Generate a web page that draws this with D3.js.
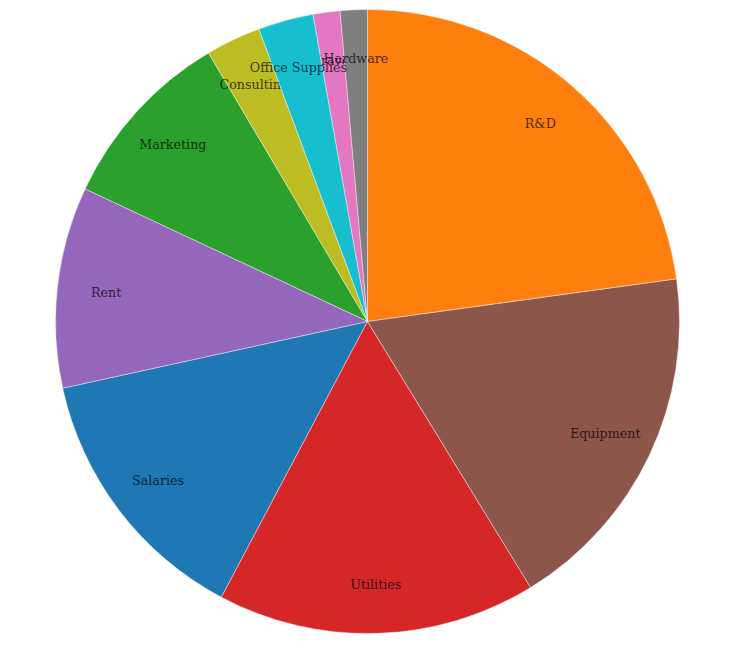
<!DOCTYPE html>
<html>
<head>
<meta charset="utf-8">
<script src="https://cdn.jsdelivr.net/npm/d3@7"></script>
<style>
  html, body { margin: 0; padding: 0; background: #fff; }
  svg { display: block; }
</style>
</head>
<body>
<svg id="chart" width="740" height="652"></svg>
<script>
const categories = ["Salaries", "R&D", "Marketing", "Utilities", "Rent", "Equipment", "Travel", "Hardware", "Consulting", "Office Supplies"];
const values = [13800, 22800, 9500, 16500, 10400, 18400, 1400, 1400, 2850, 2850];

const svg = d3.select("#chart");
const cx = 367.5, cy = 321.5, radius = 312;
const color = d3.scaleOrdinal().domain(categories).range(d3.schemeCategory10);

const pie = d3.pie().value(d => d.value);
const data = categories.map((c, i) => ({ name: c, value: values[i] }));
const arcs = pie(data);

const arc = d3.arc().innerRadius(0).outerRadius(radius);
const labelArc = d3.arc().innerRadius(radius - 49).outerRadius(radius - 49);

const g = svg.append("g").attr("transform", `translate(${cx},${cy})`);
const slice = g.selectAll("g.slice").data(arcs).join("g").attr("class", "slice");
slice.append("path")
  .attr("d", arc)
  .attr("fill", d => color(d.data.name))
  .attr("stroke", "#fff")
  .attr("stroke-width", 0.4);
slice.append("text")
  .attr("transform", d => `translate(${labelArc.centroid(d)})`)
  .attr("dy", "0.35em")
  .attr("text-anchor", "middle")
  .attr("font-family", "DejaVu Serif")
  .attr("font-size", 12.7)
  .attr("fill", "#000")
  .attr("fill-opacity", 0.72)
  .text(d => d.data.name);
</script>
</body>
</html>
